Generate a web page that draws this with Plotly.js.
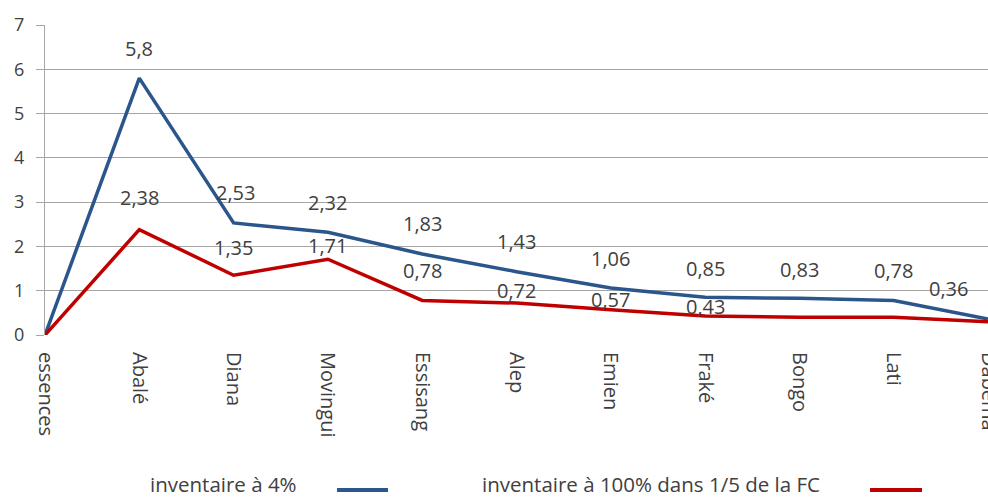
<!DOCTYPE html>
<html>
<head>
<meta charset="utf-8">
<script src="https://cdn.plot.ly/plotly-3.0.1.min.js"></script>
<style>html,body{margin:0;padding:0;background:#fff;}#chart{width:988px;height:499px;}</style>
</head>
<body>
<div id="chart"></div>
<script>
// ---- data ----
const categories = ["essences","Abalé","Diana","Movingui","Essisang","Alep","Emien","Fraké","Bongo","Lati","Dabema"];
const inventaire4 = [0, 5.8, 2.53, 2.32, 1.83, 1.43, 1.06, 0.85, 0.83, 0.78, 0.36];
const inventaire100 = [0, 2.38, 1.35, 1.71, 0.78, 0.72, 0.57, 0.43, 0.40, 0.40, 0.30];
const labels4 = [null, "5,8", "2,53", "2,32", "1,83", "1,43", "1,06", "0,85", "0,83", "0,78", "0,36"];
const labels100 = [null, "2,38", "1,35", "1,71", "0,78", "0,72", "0,57", "0,43", null, null, null];
const seriesNames = ["inventaire à 4%", "inventaire à 100% dans 1/5 de la FC"];
const yTicks = [0, 1, 2, 3, 4, 5, 6, 7];

// ---- style ----
const BLUE = "#2A568C", RED = "#C00000", TXT = "#404040", GRID = "#A6A6A6";
const FONT = "'Open Sans', 'Noto Sans', sans-serif";
const FS = 18, FS_X = 20, FS_LBL = 20, FS_LEG = 20.5;
// label vertical offsets (px) and horizontal offsets, style only
const shift4 = [0, 30, 30, 30, 30, 30, 30, 29, 29, 30, 31];
const xshift4 = [0, 0, 2, 0, 0, 0, 0, 0, 0, 0, -40];
const shift100 = [0, 32, 28, 14, 30, 13, 10, 9, 0, 0, 0];

const xIdx = categories.map((c, i) => i);

const traces = [
  {x: xIdx, y: inventaire4, type: "scatter", mode: "lines", name: seriesNames[0],
   line: {color: BLUE, width: 3.5}, showlegend: false, cliponaxis: false},
  {x: xIdx, y: inventaire100, type: "scatter", mode: "lines", name: seriesNames[1],
   line: {color: RED, width: 3.5}, showlegend: false, cliponaxis: false}
];

const annotations = [];
labels4.forEach((t, i) => {
  if (t === null) return;
  annotations.push({x: xIdx[i], y: inventaire4[i], xref: "x", yref: "y", text: t, showarrow: false,
    yshift: shift4[i], xshift: xshift4[i], font: {family: FONT, size: FS_LBL, color: TXT}});
});
labels100.forEach((t, i) => {
  if (t === null) return;
  annotations.push({x: xIdx[i], y: inventaire100[i], xref: "x", yref: "y", text: t, showarrow: false,
    yshift: shift100[i], font: {family: FONT, size: FS_LBL, color: TXT}});
});
// legend (text before symbol, as in reference)
const LEGY = -0.481;
annotations.push({x: 0.1092, y: LEGY, xref: "paper", yref: "paper", xanchor: "left", yanchor: "middle",
  text: seriesNames[0], showarrow: false, font: {family: FONT, size: FS_LEG, color: TXT}});
annotations.push({x: 0.4613, y: LEGY, xref: "paper", yref: "paper", xanchor: "left", yanchor: "middle",
  text: seriesNames[1], showarrow: false, font: {family: FONT, size: FS_LEG, color: TXT}});

const shapes = [
  {type: "line", xref: "paper", yref: "paper", x0: 0.3097, x1: 0.3637, y0: -0.5, y1: -0.5,
   line: {color: BLUE, width: 4}},
  {type: "line", xref: "paper", yref: "paper", x0: 0.8749, x1: 0.930, y0: -0.5, y1: -0.5,
   line: {color: RED, width: 4}}
];

const layout = {
  width: 988, height: 499,
  margin: {l: 45, r: 0, t: 25, b: 164, pad: 0},
  paper_bgcolor: "#fff", plot_bgcolor: "#fff",
  font: {family: FONT, size: FS, color: TXT},
  showlegend: false,
  xaxis: {range: [0, 10], tickmode: "array", tickvals: xIdx, ticktext: categories,
    tickangle: 90, showgrid: false, zeroline: false, showline: false, ticks: "",
    ticklabelstandoff: 16, ticklabeloverflow: "allow",
    tickfont: {family: FONT, size: FS_X, color: TXT}, fixedrange: true},
  yaxis: {range: [0, 7], tickmode: "array", tickvals: yTicks, ticktext: yTicks.map(String),
    showgrid: true, gridcolor: GRID, gridwidth: 1, zeroline: false,
    showline: true, linecolor: GRID, linewidth: 1, ticks: "outside", ticklen: 8, tickcolor: GRID,
    ticklabelstandoff: 8, tickfont: {family: FONT, size: FS, color: TXT}, fixedrange: true},
  annotations: annotations,
  shapes: shapes
};

Plotly.newPlot("chart", traces, layout, {displayModeBar: false, staticPlot: true});
</script>
</body>
</html>
